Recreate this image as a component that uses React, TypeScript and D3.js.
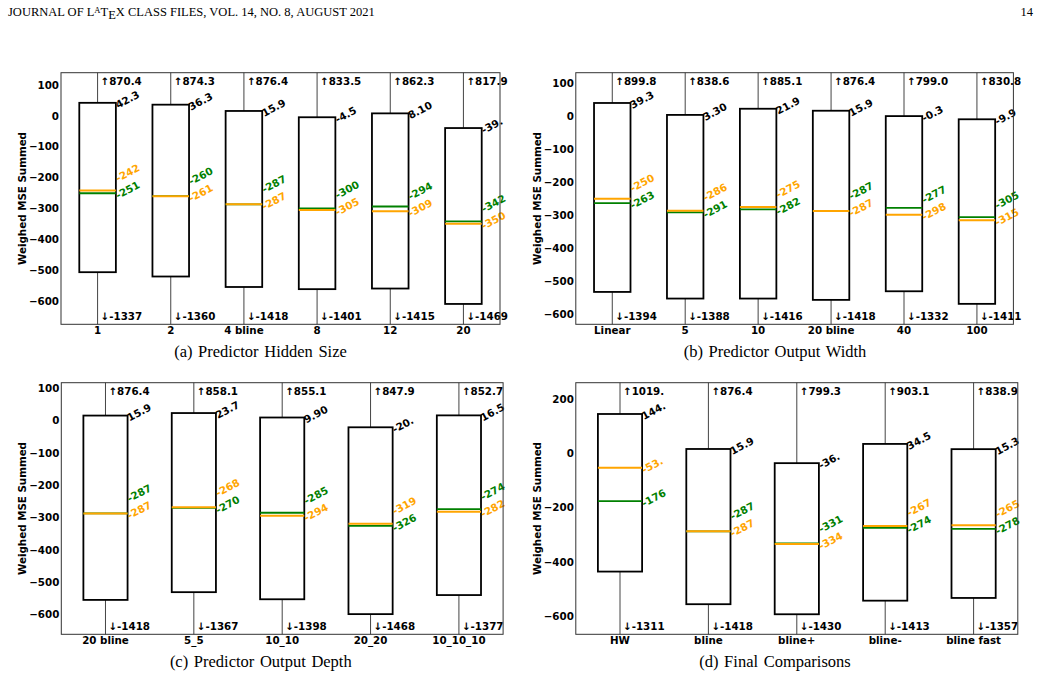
import React from "react";
import * as d3 from "d3";

// (a) Predictor Hidden Size
const hiddenCats = ["1", "2", "4 bline", "8", "12", "20"];
const hiddenMax = [870.4, 874.3, 876.4, 833.5, 862.3, 817.9];
const hiddenQ3 = [42.3, 36.3, 15.9, -4.5, 8.1, -39.5];
const hiddenMedian = [-242, -261, -287, -305, -309, -350];
const hiddenMean = [-251, -260, -287, -300, -294, -342];
const hiddenQ1 = [-507, -521, -555, -562, -560, -610];
const hiddenMin = [-1337, -1360, -1418, -1401, -1415, -1469];

// (b) Predictor Output Width
const widthCats = ["Linear", "5", "10", "20 bline", "40", "100"];
const widthMax = [899.8, 838.6, 885.1, 876.4, 799.0, 830.8];
const widthQ3 = [39.3, 3.3, 21.9, 15.9, -0.3, -9.9];
const widthMedian = [-250, -286, -275, -287, -298, -315];
const widthMean = [-263, -291, -282, -287, -277, -305];
const widthQ1 = [-531, -551, -551, -555, -529, -567];
const widthMin = [-1394, -1388, -1416, -1418, -1332, -1411];

// (c) Predictor Output Depth
const depthCats = ["20 bline", "5_5", "10_10", "20_20", "10_10_10"];
const depthMax = [876.4, 858.1, 855.1, 847.9, 852.7];
const depthQ3 = [15.9, 23.7, 9.9, -20.4, 16.5];
const depthMedian = [-287, -268, -294, -319, -282];
const depthMean = [-287, -270, -285, -326, -274];
const depthQ1 = [-555, -531, -553, -599, -540];
const depthMin = [-1418, -1367, -1398, -1468, -1377];

// (d) Final Comparisons
const finalCats = ["HW", "bline", "bline+", "bline-", "bline fast"];
const finalMax = [1019.6, 876.4, 799.3, 903.1, 838.9];
const finalQ3 = [144.6, 15.9, -36.2, 34.5, 15.3];
const finalMedian = [-53.4, -287, -334, -267, -265];
const finalMean = [-176, -287, -331, -274, -278];
const finalQ1 = [-435, -555, -592, -542, -532];
const finalMin = [-1311, -1418, -1430, -1413, -1357];

const ticksA = [100, 0, -100, -200, -300, -400, -500, -600];
const ticksD = [200, 0, -200, -400, -600];

const FONT = "'DejaVu Sans', sans-serif";
const SERIF = "'Liberation Serif', 'Times New Roman', serif";
const FS = 10.3;
const MED_COLOR = "orange";
const MEAN_COLOR = "green";

const fmt4 = (v) => v.toFixed(2).slice(0, 4);
const fmt5 = (v) => v.toFixed(2).slice(0, 5);
const tickFmt = d3.format("d");

function Panel({ cats, max, q3, median, mean, q1, min, yDomain, yTicks, left, top, width, height, caption, captionX, captionY, ylabelX }) {
  const right = left + width;
  const bottom = top + height;
  const x = d3.scalePoint().domain(cats).range([left, right]).padding(0.5);
  const y = d3.scaleLinear().domain(yDomain).range([bottom, top]).clamp(true);
  const bw = x.step() * 0.5;
  const rot = -28;

  return (
    <g>
      {cats.map((c, i) => {
        const cx = x(c);
        const x0 = cx - bw / 2;
        const yTop = y(q3[i]);
        const yBot = y(q1[i]);
        const ym = y(median[i]);
        const yn = y(mean[i]);
        // higher value gets the upper label; a tie puts the mean on top
        const medUpper = median[i] > mean[i];
        const yUp = medUpper ? ym : yn;
        const yLo = medUpper ? yn : ym;
        const bLo = yLo + 6;
        let bUp = yUp + 6;
        if (bLo - bUp < 17) bUp = bLo - 17;
        const bMed = medUpper ? bUp : bLo;
        const bMean = medUpper ? bLo : bUp;
        const lx = x0 + bw + 2;
        return (
          <g key={c}>
            <line x1={cx} x2={cx} y1={yTop} y2={y(max[i])} stroke="#444" strokeWidth={1} />
            <line x1={cx} x2={cx} y1={yBot} y2={y(min[i])} stroke="#444" strokeWidth={1} />
            <rect x={x0} y={yTop} width={bw} height={yBot - yTop} fill="white" stroke="black" strokeWidth={1.8} />
            <line x1={x0} x2={x0 + bw} y1={yn} y2={yn} stroke={MEAN_COLOR} strokeWidth={1.8} />
            <line x1={x0} x2={x0 + bw} y1={ym} y2={ym} stroke={MED_COLOR} strokeWidth={2} />
            <text transform={`translate(${lx},${yTop + 6}) rotate(${rot})`} fontSize={FS} fontWeight="bold" fill="black">
              {fmt4(q3[i])}
            </text>
            <text transform={`translate(${lx},${bMed}) rotate(${rot})`} fontSize={FS} fontWeight="bold" fill={MED_COLOR}>
              {fmt4(median[i])}
            </text>
            <text transform={`translate(${lx},${bMean}) rotate(${rot})`} fontSize={FS} fontWeight="bold" fill={MEAN_COLOR}>
              {fmt4(mean[i])}
            </text>
            <text x={cx + 3} y={top + 12} fontSize={FS} fontWeight="bold">
              {"\u2191" + fmt5(max[i])}
            </text>
            <text x={cx + 3} y={bottom - 4} fontSize={FS} fontWeight="bold">
              {"\u2193" + fmt5(min[i])}
            </text>
            <text x={cx} y={bottom + 10} fontSize={FS} fontWeight="bold" textAnchor="middle">
              {c}
            </text>
          </g>
        );
      })}
      <rect x={left} y={top} width={width} height={height} fill="none" stroke="#333" strokeWidth={1} />
      {yTicks.map((t) => (
        <text key={t} x={left - 2} y={y(t)} dy="0.36em" fontSize={FS} fontWeight="bold" textAnchor="end">
          {tickFmt(t)}
        </text>
      ))}
      <text
        transform={`translate(${ylabelX},${(top + bottom) / 2}) rotate(-90)`}
        fontSize={FS}
        fontWeight="bold"
        textAnchor="middle"
        dy="0.35em"
      >
        Weighed MSE Summed
      </text>
      <text x={captionX} y={captionY} fontFamily={SERIF} fontSize={16.5} wordSpacing={1.5} textAnchor="middle">
        {caption}
      </text>
    </g>
  );
}

export default function App() {
  return (
    <svg width={1041} height={684} style={{ position: "absolute", left: 0, top: 0, background: "white" }} fontFamily={FONT}>
      <rect width={1041} height={684} fill="white" />
      <text x={8} y={16} fontFamily={SERIF} fontSize={12.5}>
        JOURNAL OF L
        <tspan dy={-3} fontSize={8.5}>A</tspan>
        <tspan dy={3}>T</tspan>
        <tspan dy={2.5}>E</tspan>
        <tspan dy={-2.5}>X CLASS FILES, VOL. 14, NO. 8, AUGUST 2021</tspan>
      </text>
      <text x={1033} y={16} fontFamily={SERIF} fontSize={12.5} textAnchor="end">14</text>

      <Panel
        cats={hiddenCats} max={hiddenMax} q3={hiddenQ3} median={hiddenMedian} mean={hiddenMean} q1={hiddenQ1} min={hiddenMin}
        yDomain={[-676, 140]} yTicks={ticksA}
        left={61} top={72.7} width={439} height={251.6}
        caption="(a) Predictor Hidden Size" captionX={260.5} captionY={356.7} ylabelX={22.5}
      />
      <Panel
        cats={widthCats} max={widthMax} q3={widthQ3} median={widthMedian} mean={widthMean} q1={widthQ1} min={widthMin}
        yDomain={[-628.7, 130.7]} yTicks={ticksA}
        left={575.8} top={72.7} width={437.6} height={251.6}
        caption="(b) Predictor Output Width" captionX={775} captionY={356.7} ylabelX={537}
      />
      <Panel
        cats={depthCats} max={depthMax} q3={depthQ3} median={depthMedian} mean={depthMean} q1={depthQ1} min={depthMin}
        yDomain={[-661.5, 117.7]} yTicks={ticksA}
        left={61.3} top={382.7} width={441.8} height={251.6}
        caption="(c) Predictor Output Depth" captionX={260.8} captionY={666.7} ylabelX={22.5}
      />
      <Panel
        cats={finalCats} max={finalMax} q3={finalQ3} median={finalMedian} mean={finalMean} q1={finalQ1} min={finalMin}
        yDomain={[-665.7, 259.7]} yTicks={ticksD}
        left={575.8} top={382.7} width={442} height={251.6}
        caption="(d) Final Comparisons" captionX={775} captionY={666.7} ylabelX={537}
      />
    </svg>
  );
}
